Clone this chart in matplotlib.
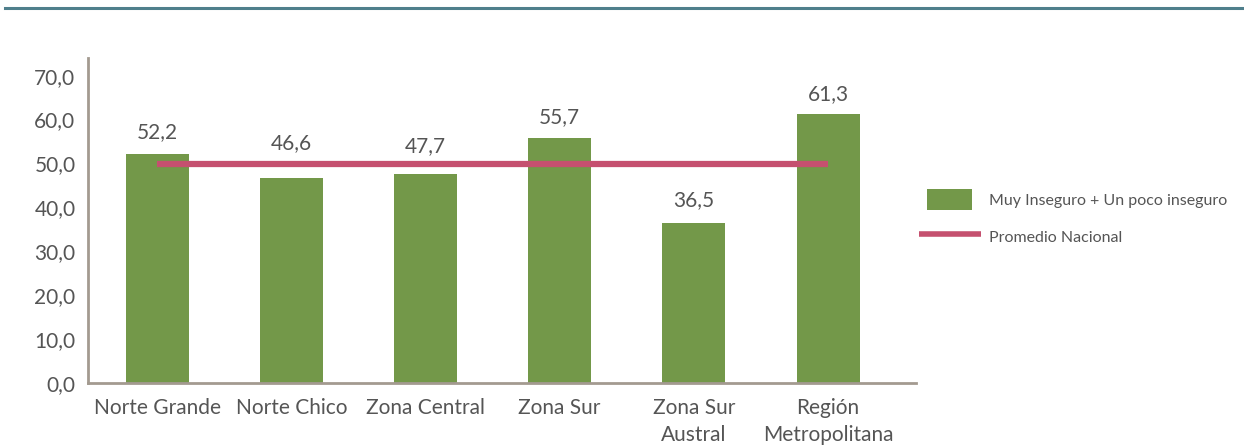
import matplotlib

matplotlib.use("Agg")
import matplotlib.pyplot as plt
from matplotlib.legend_handler import HandlerPatch
from matplotlib.lines import Line2D
from matplotlib.patches import Patch, Rectangle

categories = ["Norte Grande", "Norte Chico", "Zona Central", "Zona Sur",
              "Zona Sur\nAustral", "Región\nMetropolitana"]
inseguro = [52.2, 46.6, 47.7, 55.7, 36.5, 61.3]
promedio = 49.8
yticks = [0, 10, 20, 30, 40, 50, 60, 70]

# vertical gap (px) between bar top and its value label
label_gap = [22, 35, 27, 21, 23, 20]

GREEN = "#739849"
PINK = "#c5506f"
TEXT = "#555555"
SPINE = "#a39a90"

plt.rcParams["font.family"] = ["Lato", "DejaVu Sans"]


def narrow_box(legend, orig_handle, xdescent, ydescent, width, height, fontsize):
    # green swatch is narrower than the line handle in the original
    w = width * 0.72
    return Rectangle((-xdescent + (width - w) / 2, -ydescent), w, height)


fig = plt.figure(figsize=(12.44, 4.47), dpi=100)
ax = fig.add_axes([0.0707, 0.1432, 0.6656, 0.7268])

x = list(range(len(categories)))
ax.bar(x, inseguro, width=0.47, color=GREEN, zorder=2)
ax.plot(x, [promedio] * len(x), color=PINK, lw=4.5, solid_capstyle="butt", zorder=3)

for xi, v, gap in zip(x, inseguro, label_gap):
    ax.annotate(f"{v:.1f}".replace(".", ","), (xi, v), xytext=(0, gap * 0.72),
                textcoords="offset points", ha="center", va="center",
                fontsize=15, color=TEXT)

ax.set_xlim(-0.515, 5.655)
ax.set_ylim(0, 74.0)
ax.set_yticks(yticks)
ax.set_yticklabels([f"{t:.1f}".replace(".", ",") for t in yticks], fontsize=15, color=TEXT)
ax.set_xticks(x)
ax.set_xticklabels(categories, fontsize=15, color=TEXT, linespacing=1.4)
ax.tick_params(length=0)
ax.tick_params(axis="x", pad=11)
ax.tick_params(axis="y", pad=9)

for side in ("top", "right"):
    ax.spines[side].set_visible(False)
for side in ("left", "bottom"):
    ax.spines[side].set_color(SPINE)
    ax.spines[side].set_linewidth(2)

handles = [Patch(facecolor=GREEN, label="Muy Inseguro + Un poco inseguro"),
           Line2D([0], [0], color=PINK, lw=4, solid_capstyle="butt",
                  label="Promedio Nacional")]
fig.legend(handles=handles, loc="center left", bbox_to_anchor=(0.727, 0.512),
           frameon=False, fontsize=11.5, labelcolor=TEXT, handlelength=3.9,
           handleheight=1.65, handletextpad=0.5, labelspacing=1.0,
           handler_map={Patch: HandlerPatch(patch_func=narrow_box)})

# thin rule at the top of the page
fig.add_artist(Line2D([0.004, 1.0], [0.981, 0.981], color="#4f7f8c", lw=2.2,
                      transform=fig.transFigure))

fig.savefig("out.png", dpi=100)
